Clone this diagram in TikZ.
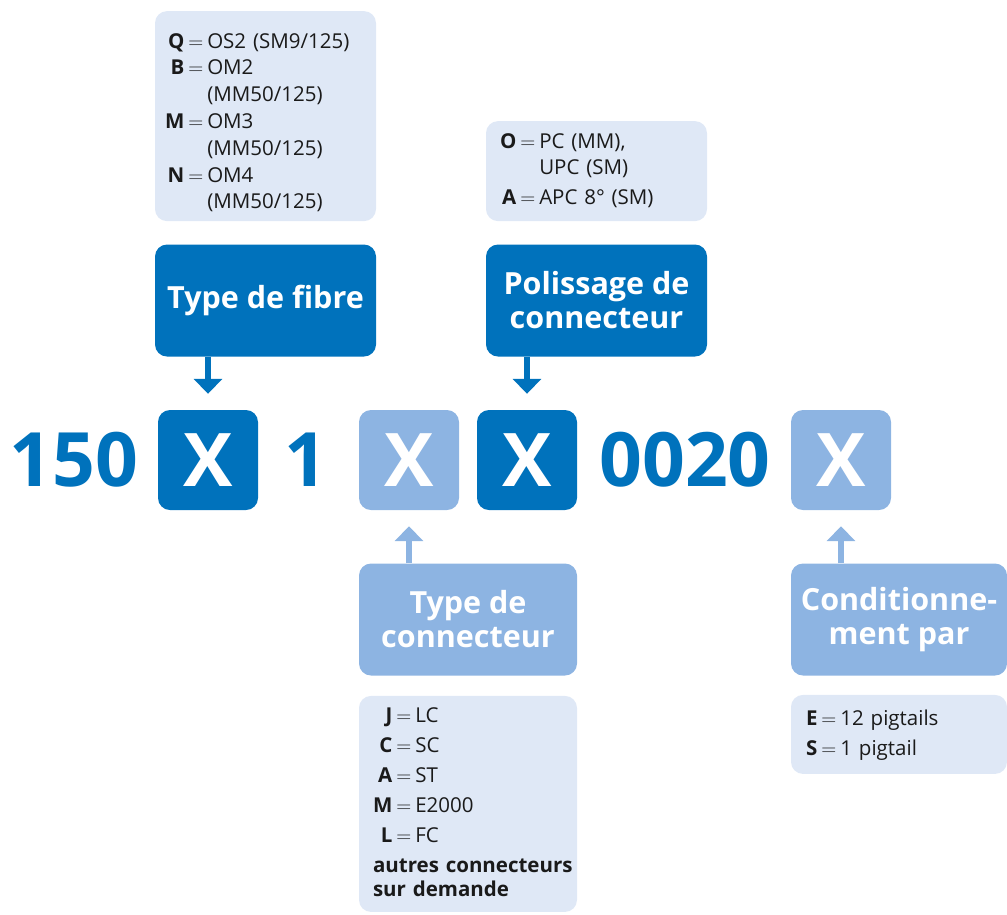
\documentclass[tikz,border=0pt]{standalone}
\usepackage{fontspec}
\usepackage{array}
\setmainfont{Open Sans}
\usetikzlibrary{arrows.meta,positioning}
\definecolor{codedark}{HTML}{0072BC}
\definecolor{codelight}{HTML}{8DB4E2}
\definecolor{codepale}{HTML}{DFE8F6}
\definecolor{codetext}{HTML}{1A1A1A}
\newcolumntype{E}{@{\hspace{4pt}}c@{\hspace{4pt}}}

\begin{document}
\begin{tikzpicture}[
  x=1pt, y=-1pt,
  box/.style={rounded corners=12pt, inner sep=0pt, align=center},
  head/.style={box, minimum height=112pt, text=white, font=\fontsize{30.5}{34}\selectfont\bfseries},
  headdark/.style={head, fill=codedark},
  headlight/.style={head, fill=codelight},
  opt/.style={box, fill=codepale, text=codetext, align=left, inner xsep=14pt, font=\fontsize{20.5}{26.8}\selectfont},
  letter/.style={box, minimum width=100pt, minimum height=100pt, text=white, font=\fontsize{74}{74}\selectfont\bfseries},
  code/.style={inner sep=0pt, text=codedark, font=\fontsize{75}{75}\selectfont\bfseries},
  arrdark/.style={draw=codedark, line width=6.5pt, -{Triangle[width=28pt,length=15pt]}, shorten >=16pt},
  arrlight/.style={arrdark, draw=codelight}
]
\useasboundingbox (0,0) rectangle (1007,914);

% code row
\node[code] (c150) at (74,460) {150};
\node[letter, fill=codedark] (x1) at (208,460) {X};
\node[code] (c1) at (306,460) {1};
\node[letter, fill=codelight] (x2) at (409,460) {X};
\node[letter, fill=codedark] (x3) at (527,460) {X};
\node[code] (c0020) at (685,460) {0020};
\node[letter, fill=codelight] (x4) at (841,460) {X};

% headers
\node[headdark, minimum width=221pt] (fibre) at (265.5,300.5) {Type de fibre};
\node[headdark, minimum width=221pt] (polish) at (596.5,300.5) {Polissage de\\connecteur};
\node[headlight, minimum width=218pt] (conn) at (468,619.5) {Type de\\connecteur};
\node[headlight, minimum width=216pt] (pack) at (899,619.5) {Conditionne-\\ment par};

% option lists
\node[opt, text width=201pt, inner xsep=10pt, minimum height=210pt, above=23pt of fibre] (fibreopt) {%
  \begin{tabular}{@{}rEl@{}}
  \textbf{Q} & $=$ & OS2 (SM9/125)\\
  \textbf{B} & $=$ & OM2\\
             &     & (MM50/125)\\
  \textbf{M} & $=$ & OM3\\
             &     & (MM50/125)\\
  \textbf{N} & $=$ & OM4\\
             &     & (MM50/125)\\[-14pt]
  \end{tabular}};
\node[opt, text width=193pt, minimum height=100pt, above=23pt of polish] (polishopt) {%
  \begin{tabular}{@{}rEl@{}}
  \textbf{O} & $=$ & PC (MM),\\
             &     & UPC (SM)\\[3pt]
  \textbf{A} & $=$ & APC 8° (SM)
  \end{tabular}};
\node[opt, text width=190pt, minimum height=216pt, below=20pt of conn, font=\fontsize{20.5}{30}\selectfont] (connopt) {%
  \begin{tabular}{@{}rEl@{}}
  \textbf{J} & $=$ & LC\\
  \textbf{C} & $=$ & SC\\
  \textbf{A} & $=$ & ST\\
  \textbf{M} & $=$ & E2000\\
  \textbf{L} & $=$ & FC\\
  \multicolumn{3}{@{}l@{}}{\textbf{autres connecteurs}}\\[-6pt]
  \multicolumn{3}{@{}l@{}}{\textbf{sur demande}}
  \end{tabular}};
\node[opt, text width=186pt, inner xsep=15pt, minimum height=79pt, below=19pt of pack, font=\fontsize{20.5}{30}\selectfont] (packopt) {%
  \begin{tabular}{@{}rEl@{}}
  \textbf{E} & $=$ & 12 pigtails\\
  \textbf{S} & $=$ & 1 pigtail
  \end{tabular}};

% arrows
\draw[arrdark] (fibre.south -| x1.north) -- (x1.north);
\draw[arrdark] (polish.south -| x3.north) -- (x3.north);
\draw[arrlight] (conn.north -| x2.south) -- (x2.south);
\draw[arrlight] (pack.north -| x4.south) -- (x4.south);
\end{tikzpicture}
\end{document}
